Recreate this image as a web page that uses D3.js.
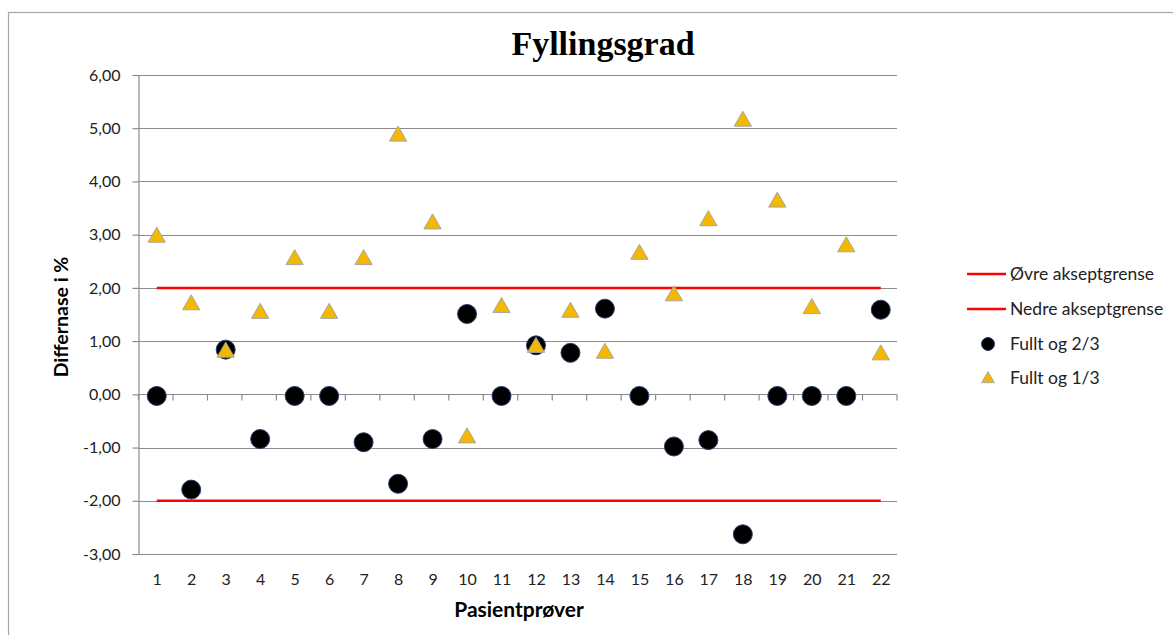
<!DOCTYPE html>
<html><head><meta charset="utf-8">
<script src="https://cdn.jsdelivr.net/npm/d3@7"></script>
<style>body{margin:0;background:#fff}svg{display:block}</style>
</head><body>
<svg id="c" width="1173" height="635"></svg>
<script>
const categories = d3.range(1, 23).map(String);
const fullt23 = [-0.03,-1.79,0.84,-0.84,-0.03,-0.03,-0.90,-1.68,-0.84,1.51,-0.03,0.92,0.78,1.61,-0.03,-0.98,-0.86,-2.63,-0.03,-0.03,-0.03,1.59];
const fullt13 = [2.98,1.71,0.82,1.55,2.56,1.55,2.56,4.88,3.23,-0.79,1.66,0.91,1.57,0.80,2.66,1.88,3.29,5.16,3.64,1.64,2.80,0.77];
const upperLimit = 2;
const lowerLimit = -2;
const yTicks = [-3,-2,-1,0,1,2,3,4,5,6];
const legendLabels = ["Øvre akseptgrense","Nedre akseptgrense","Fullt og 2/3","Fullt og 1/3"];

const svg = d3.select("#c");
const font = "Lato, 'Open Sans', sans-serif";
const L = 138.5, R = 897, T = 75, B = 554;

// outer border
svg.append("rect").attr("x",8.5).attr("y",12.5).attr("width",1180).attr("height",640)
  .attr("fill","none").attr("stroke","#a6a6a6").attr("stroke-width",1.2);

const x = d3.scaleBand().domain(categories).range([L, R]);
const y = d3.scaleLinear().domain([-3, 6]).range([B, T]);

// gridlines
svg.append("g").selectAll("line").data(yTicks).join("line")
  .attr("x1", L).attr("x2", R).attr("y1", d=>Math.round(y(d))+0.5).attr("y2", d=>Math.round(y(d))+0.5)
  .attr("stroke","#8c8c8c").attr("stroke-width",1.2);

// y axis
const yAxis = svg.append("g").attr("transform",`translate(${L},0)`)
  .call(d3.axisLeft(y).tickValues(yTicks).tickSize(6).tickPadding(12)
    .tickFormat(d => d3.format(".2f")(d).replace(".", ",").replace("−","-")));
yAxis.select(".domain").attr("stroke","#8c8c8c").attr("stroke-width",1.2);
yAxis.selectAll(".tick line").attr("stroke","#8c8c8c").attr("stroke-width",1.2);
yAxis.selectAll("text").attr("font-family",font).attr("font-size",16).attr("fill","#222");

// x axis at 0 with boundary ticks
const xAxisG = svg.append("g").attr("transform",`translate(0,${Math.round(y(0))+0.5})`);
xAxisG.append("line").attr("x1",L).attr("x2",R).attr("stroke","#8c8c8c").attr("stroke-width",1.2);
const bounds = categories.map(c => x(c)).concat([R]);
xAxisG.selectAll("line.t").data(bounds).join("line").attr("class","t")
  .attr("x1",d=>d).attr("x2",d=>d).attr("y1",0).attr("y2",6).attr("stroke","#8c8c8c").attr("stroke-width",1.2);

// category labels at bottom
const xb = svg.append("g").attr("transform",`translate(1.5,${B})`)
  .call(d3.axisBottom(x).tickSize(0).tickPadding(20));
xb.select(".domain").remove();
xb.selectAll("text").attr("font-family",font).attr("font-size",16).attr("fill","#222");

// axis titles
svg.append("text").attr("x",519).attr("y",617).attr("text-anchor","middle")
  .attr("font-family",font).attr("font-size",21).attr("font-weight","bold").text("Pasientprøver");
svg.append("text").attr("transform","translate(68,317) rotate(-90)").attr("text-anchor","middle")
  .attr("font-family",font).attr("font-size",19.5).attr("font-weight","bold").text("Differnase i %");

// title
svg.append("text").attr("x",603).attr("y",55).attr("text-anchor","middle")
  .attr("font-family","'Liberation Serif', 'Times New Roman', serif").attr("font-size",34).attr("font-weight","bold").text("Fyllingsgrad");

// limit lines
const cx = d => x(d) + x.bandwidth()/2 + 1;
[upperLimit, lowerLimit].forEach(v => {
  svg.append("line").attr("x1",cx(categories[0])).attr("x2",cx(categories[categories.length-1]))
    .attr("y1",y(v)).attr("y2",y(v)).attr("stroke","#ff0000").attr("stroke-width",2.5);
});

// circles
svg.append("g").selectAll("circle").data(fullt23).join("circle")
  .attr("cx",(d,i)=>cx(categories[i])).attr("cy",d=>y(d)).attr("r",9.5)
  .attr("fill","#000").attr("stroke","#2a3f6b").attr("stroke-width",1);

// triangles
const tri = d3.symbol().type(d3.symbolTriangle).size(130);
svg.append("g").selectAll("path").data(fullt13).join("path")
  .attr("transform",(d,i)=>`translate(${cx(categories[i])},${y(d)+1.5})`)
  .attr("d",tri).attr("fill","#f5b800").attr("stroke","#a6a6a6").attr("stroke-width",1);

// legend
const lg = svg.append("g");
const ly = [274, 309, 344, 378];
lg.append("line").attr("x1",967).attr("x2",1006).attr("y1",ly[0]).attr("y2",ly[0]).attr("stroke","#ff0000").attr("stroke-width",2.5);
lg.append("line").attr("x1",967).attr("x2",1006).attr("y1",ly[1]).attr("y2",ly[1]).attr("stroke","#ff0000").attr("stroke-width",2.5);
lg.append("circle").attr("cx",988).attr("cy",ly[2]).attr("r",6.5).attr("fill","#000").attr("stroke","#2a3f6b");
lg.append("path").attr("transform",`translate(988,${ly[3]+1})`).attr("d",d3.symbol().type(d3.symbolTriangle).size(70))
  .attr("fill","#f5b800").attr("stroke","#a6a6a6");
lg.selectAll("text").data(legendLabels).join("text")
  .attr("x",1010).attr("y",(d,i)=>ly[i]+6).attr("font-family",font).attr("font-size",17.5).attr("fill","#222").text(d=>d);
</script>
</body></html>
